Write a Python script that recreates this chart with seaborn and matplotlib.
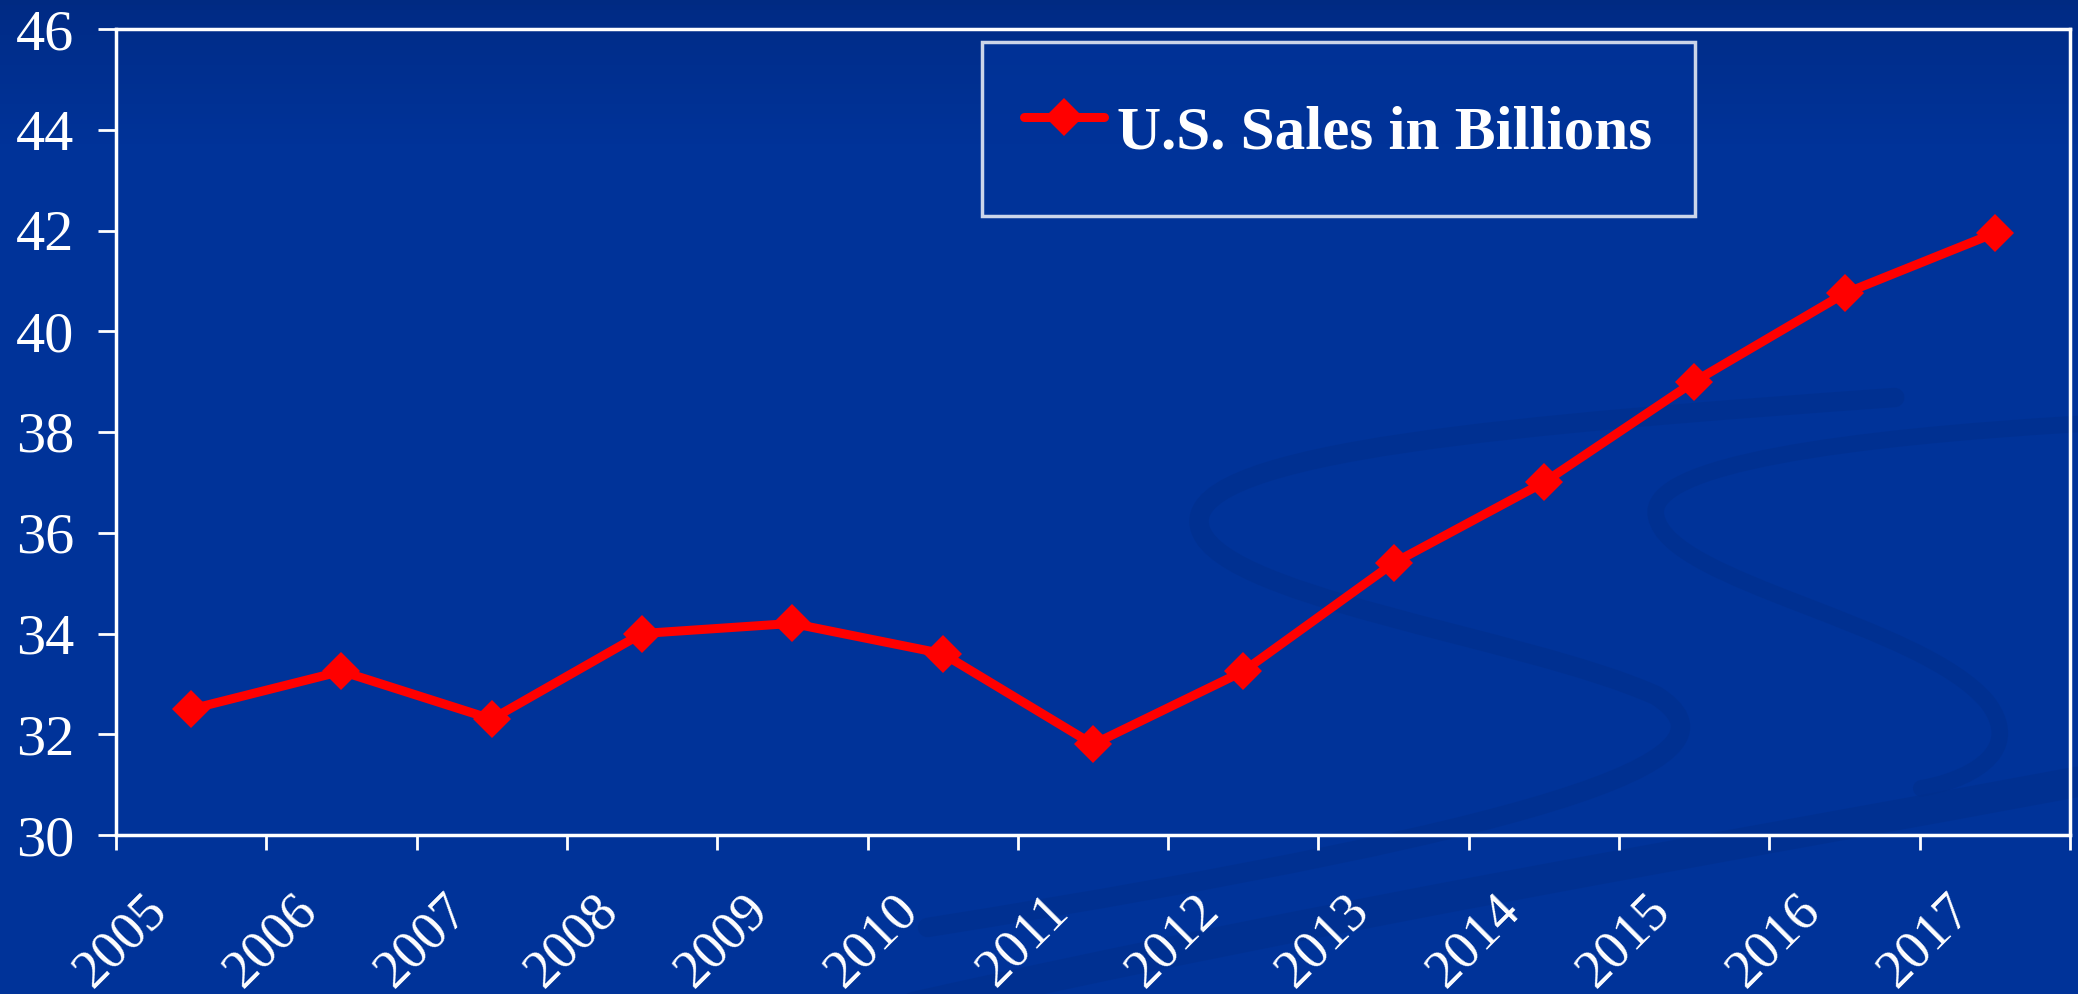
# Ventas en EE.UU. (miles de millones) 2005-2017
import numpy as np
import pandas as pd
import matplotlib
matplotlib.use("Agg")
import matplotlib.pyplot as plt
import seaborn as sns
from matplotlib.path import Path
from matplotlib.patches import PathPatch
from matplotlib.transforms import ScaledTranslation, Affine2D

# Datos
years = ["2005", "2006", "2007", "2008", "2009", "2010", "2011",
         "2012", "2013", "2014", "2015", "2016", "2017"]
sales = [32.5, 33.25, 32.3, 34.0, 34.2, 33.6, 31.8,
         33.25, 35.4, 37.0, 39.0, 40.75, 41.95]
y_ticks = [30, 32, 34, 36, 38, 40, 42, 44, 46]
series_name = "U.S. Sales in Billions"

df = pd.DataFrame({"year": years, "sales": sales, "serie": series_name})

sns.set_style("white")
plt.rcParams["font.family"] = ["Liberation Serif", "DejaVu Serif"]

BLUE = "#003399"
SWOOSH = "#002f8c"
W, H = 2078, 994
fig = plt.figure(figsize=(W / 100, H / 100), dpi=100)

# Fondo con degradado (más oscuro arriba)
bg = fig.add_axes([0, 0, 1, 1], zorder=-10)
grad = np.ones((200, 1))
grad[:30, 0] = np.linspace(0.0, 1.0, 30) ** 0.7
bg.imshow(grad, aspect="auto", extent=[0, 1, 0, 1],
          cmap=matplotlib.colors.LinearSegmentedColormap.from_list("bg", ["#002a82", BLUE]),
          vmin=0, vmax=1, origin="upper")
bg.set_xlim(0, 1)
bg.set_ylim(0, 1)
bg.set_axis_off()

# Adorno de fondo (curvas en S), en píxeles de la imagen reducida, origen arriba
to_fig = Affine2D().scale(1.325 / W, -1.325 / H).translate(0, 1) + bg.transAxes
C = Path.CURVE4
swooshes = [
    ([(1430, 300), (1150, 320), (900, 340), (905, 395),
      (910, 450), (1150, 480), (1250, 525),
      (1320, 570), (1200, 620), (700, 700)],
     [Path.MOVETO, C, C, C, C, C, C, C, C, C], 14),
    ([(1568, 320), (1400, 330), (1240, 350), (1250, 390),
      (1260, 440), (1450, 470), (1500, 530),
      (1530, 570), (1480, 590), (1450, 595)],
     [Path.MOVETO, C, C, C, C, C, C, C, C, C], 12),
    ([(690, 760), (1000, 690), (1300, 640), (1568, 590)],
     [Path.MOVETO, C, C, C], 22),
]
for pts, codes, lw in swooshes:
    bg.add_patch(PathPatch(Path(pts, codes), transform=to_fig, fill=False,
                           edgecolor=SWOOSH, lw=lw, capstyle="round", alpha=0.6))

ax = fig.add_axes([116 / W, 1 - 835 / H, 1954 / W, 806 / H])
ax.set_facecolor("none")

sns.lineplot(data=df, x="year", y="sales", hue="serie", palette=["#ff0000"],
             marker="D", markersize=19, markeredgewidth=0, linewidth=6.5,
             sort=False, ax=ax)

ax.set_xlim(-0.5, len(years) - 0.5)
ax.set_ylim(30, 46)
ax.set_yticks(y_ticks)
ax.set_xticks(range(len(years)))
ax.set_xticklabels(years, rotation=45, ha="right", va="top")
ax.set_xticks(np.arange(-0.5, len(years)), minor=True)
ax.set_xlabel("")
ax.set_ylabel("")

for s in ax.spines.values():
    s.set_color("white")
    s.set_linewidth(2.5)
    s.set_visible(True)

ax.tick_params(axis="y", which="major", direction="out", length=13, width=2,
               color="white", labelcolor="white", labelsize=42, pad=17, left=True)
ax.tick_params(axis="x", which="major", length=0, labelcolor="white",
               labelsize=39, pad=36, bottom=True)
ax.tick_params(axis="x", which="minor", direction="out", length=11, width=2,
               color="white", bottom=True)

offset = ScaledTranslation(-0.14, 0, fig.dpi_scale_trans)
for lab in ax.get_xticklabels():
    lab.set_transform(lab.get_transform() + offset)

leg = ax.legend(loc="upper left", bbox_to_anchor=(0.443, 0.984), frameon=True,
                fancybox=False, borderpad=0.7, borderaxespad=0, handlelength=1.3,
                handleheight=1.85, handletextpad=0.22,
                prop={"size": 44, "weight": "bold"})
leg.get_frame().set_facecolor(BLUE)
leg.get_frame().set_edgecolor("white")
leg.get_frame().set_linewidth(2.5)
for t in leg.get_texts():
    t.set_color("white")

fig.savefig("out.png", dpi=100, facecolor=BLUE)
